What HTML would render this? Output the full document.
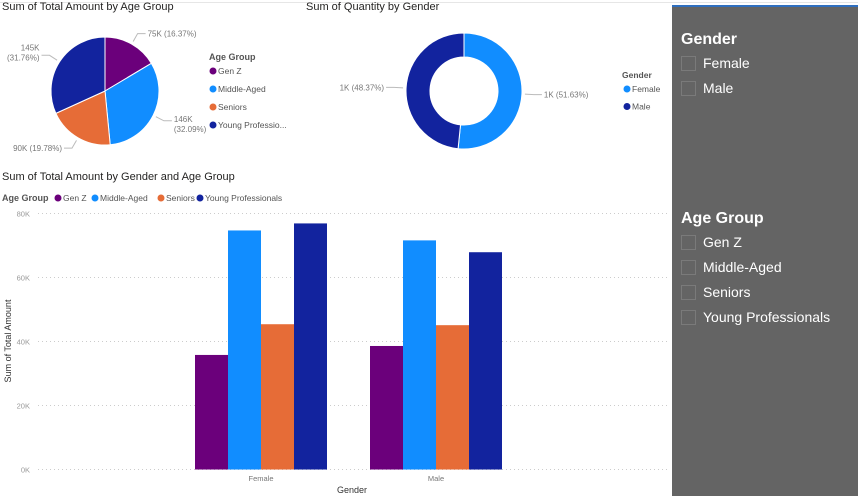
<!DOCTYPE html>
<html><head><meta charset="utf-8"><style>
body{margin:0;width:858px;height:497px;overflow:hidden;background:#fff;font-family:"Liberation Sans","DejaVu Sans",sans-serif;position:relative}
.t{position:absolute;font-size:11px;color:#252423}
svg{position:absolute;left:0;top:0}
#panel{position:absolute;left:672px;top:5px;width:186px;height:489px;background:#646464;border-top:2px solid #2f6fbf}
.sh{position:absolute;left:9px;font-weight:bold;font-size:16px;color:#fff}
.it{position:absolute;left:9px;font-size:14px;color:#fff;height:16px;line-height:16px}
.cb{display:inline-block;width:13px;height:13px;border:1px solid #7a7a7a;vertical-align:-3px;margin-right:7px}
</style></head><body>
<div style="position:absolute;left:0;top:2px;width:858px;height:1px;background:#e6e6e6"></div>
<div class="t" style="left:2px;top:1px">Sum of Total Amount by Age Group</div>
<div class="t" style="left:306px;top:1px">Sum of Quantity by Gender</div>
<div class="t" style="left:2px;top:171px">Sum of Total Amount by Gender and Age Group</div>
<svg width="858" height="497" id="svg"></svg>
<div id="panel">
<div class="sh" style="top:24px">Gender</div>
<div class="it" style="top:48px"><span class="cb"></span>Female</div>
<div class="it" style="top:73px"><span class="cb"></span>Male</div>
<div class="sh" style="top:203px">Age Group</div>
<div class="it" style="top:227px"><span class="cb"></span>Gen Z</div>
<div class="it" style="top:252px"><span class="cb"></span>Middle-Aged</div>
<div class="it" style="top:277px"><span class="cb"></span>Seniors</div>
<div class="it" style="top:302px"><span class="cb"></span>Young Professionals</div>
</div>
<script>
const ageGroups=["Gen Z","Middle-Aged","Seniors","Young Professionals"];
const ageColors=["#6b007b","#118dff","#e66c37","#12239e"];
const pieValues=[75,146,90,145];
const pieLabels=["75K (16.37%)","146K (32.09%)","90K (19.78%)","145K (31.76%)"];
const genders=["Female","Male"];
const genderColors=["#118dff","#12239e"];
const donutValues=[51.63,48.37];
const donutLabels=["1K (51.63%)","1K (48.37%)"];
const femaleValues=[35.8,74.7,45.4,76.9];
const maleValues=[38.6,71.6,45.1,67.9];
const yTicks=[0,20,40,60,80];
const yTickLabels=["0K","20K","40K","60K","80K"];

const NS="http://www.w3.org/2000/svg",svg=document.getElementById("svg");
function mk(t,a,txt){const e=document.createElementNS(NS,t);for(const k in a)e.setAttribute(k,a[k]);if(txt!=null)e.textContent=txt;svg.appendChild(e);return e;}
function arc(cx,cy,r,ri,a0,a1){const p=(a,rr)=>[cx+rr*Math.sin(a),cy-rr*Math.cos(a)];const lg=a1-a0>Math.PI?1:0;
 const [x0,y0]=p(a0,r),[x1,y1]=p(a1,r);
 if(!ri)return `M${cx},${cy}L${x0},${y0}A${r},${r} 0 ${lg} 1 ${x1},${y1}Z`;
 const [x2,y2]=p(a1,ri),[x3,y3]=p(a0,ri);
 return `M${x0},${y0}A${r},${r} 0 ${lg} 1 ${x1},${y1}L${x2},${y2}A${ri},${ri} 0 ${lg} 0 ${x3},${y3}Z`;}
function pieChart(vals,cols,labels,cx,cy,r,ri,name){
 const tot=vals.reduce((a,b)=>a+b,0);let a=0;
 vals.forEach((v,i)=>{const a1=a+v/tot*2*Math.PI;
  const s=mk("path",{d:arc(cx,cy,r,ri,a,a1),fill:cols[i],stroke:"#fff","stroke-width":1});
  
  
  const m=(a+a1)/2,sx=Math.sin(m),cy2=-Math.cos(m);
  const x1=cx+(r+3)*sx,y1=cy+(r+3)*cy2,x2=cx+(r+12)*sx,y2=cy+(r+12)*cy2,x3=x2+(sx>0?8:-8);
  const ln=mk("polyline",{points:`${x1},${y1} ${x2},${y2} ${x3},${y2}`,fill:"none",stroke:"#bbb","stroke-width":1});
  
  
  const parts=labels[i].split(" ");const anc=sx>0?"start":"end";const lx=x3+(sx>0?2:-2);
  let tx;
  if(name==="pie"&&(i==1||i==3)){tx=mk("text",{x:lx,y:y2-(i==3?5:-1),"font-size":8,fill:"#777","text-anchor":anc});
   const t1=document.createElementNS(NS,"tspan");t1.setAttribute("x",lx);t1.textContent=parts[0];tx.appendChild(t1);
   const t2=document.createElementNS(NS,"tspan");t2.setAttribute("x",lx);t2.setAttribute("dy",10);t2.textContent=parts[1];tx.appendChild(t2);}
  else tx=mk("text",{x:lx,y:y2+3,"font-size":8,fill:"#777","text-anchor":anc},labels[i]);
  
  
  a=a1;});}
pieChart(pieValues,ageColors,pieLabels,105,91,54,0,"pie");
pieChart(donutValues,genderColors,donutLabels,464,91,58,34,"donut");
let lt=mk("text",{x:209,y:60,"font-size":9,"font-weight":"bold",fill:"#555"},"Age Group");


const pieLegNames=["Gen Z","Middle-Aged","Seniors","Young Professio..."];
pieLegNames.forEach((n,i)=>{const y=71+i*18;
 const c=mk("circle",{cx:213,cy:y,r:3.5,fill:ageColors[i]});
 
 
 const t=mk("text",{x:218,y:y+3,"font-size":8.5,fill:"#555"},n);
 
 });
lt=mk("text",{x:622,y:78,"font-size":8.5,"font-weight":"bold",fill:"#555"},"Gender");


genders.forEach((n,i)=>{const y=89+i*17.5;
 const c=mk("circle",{cx:627,cy:y,r:3.5,fill:genderColors[i]});
 
 
 const t=mk("text",{x:632,y:y+3,"font-size":8.5,fill:"#555"},n);
 
 });
lt=mk("text",{x:2,y:201,"font-size":9,"font-weight":"bold",fill:"#555"},"Age Group");


const legX=[58,95,161,200];
ageGroups.forEach((n,i)=>{
 const c=mk("circle",{cx:legX[i],cy:198,r:3.5,fill:ageColors[i]});
 
 
 const t=mk("text",{x:legX[i]+5,y:201,"font-size":8.5,fill:"#555"},n);
 
 });
const y0=469.5,yTop=213.5,yMax=80;
const yS=v=>y0-(v/yMax)*(y0-yTop);
const xC=i=>261+i*175,bw=33;
yTicks.forEach((v,i)=>{
 const g=mk("line",{x1:38,x2:668,y1:yS(v),y2:yS(v),stroke:"#ccc","stroke-width":1,"stroke-dasharray":"1,3"});
 
 
 const t=mk("text",{x:30,y:yS(v)+3,"font-size":7.5,fill:"#999","text-anchor":"end"},yTickLabels[i]);
 
 });
const series=[femaleValues,maleValues];
genders.forEach((g,gi)=>{
 series[gi].forEach((v,i)=>{
  const x=xC(gi)-2*bw+i*bw;
  const r=mk("rect",{x:x,y:yS(v),width:bw,height:y0-yS(v),fill:ageColors[i]});
  
  });
 const t=mk("text",{x:xC(gi),y:481,"font-size":7.5,fill:"#777","text-anchor":"middle"},g);
 
 });
let at=mk("text",{x:352,y:493,"font-size":9,fill:"#333","text-anchor":"middle"},"Gender");


at=mk("text",{x:0,y:0,"font-size":9,fill:"#333","text-anchor":"middle",transform:"translate(11,341) rotate(-90)"},"Sum of Total Amount");


</script>
</body></html>
